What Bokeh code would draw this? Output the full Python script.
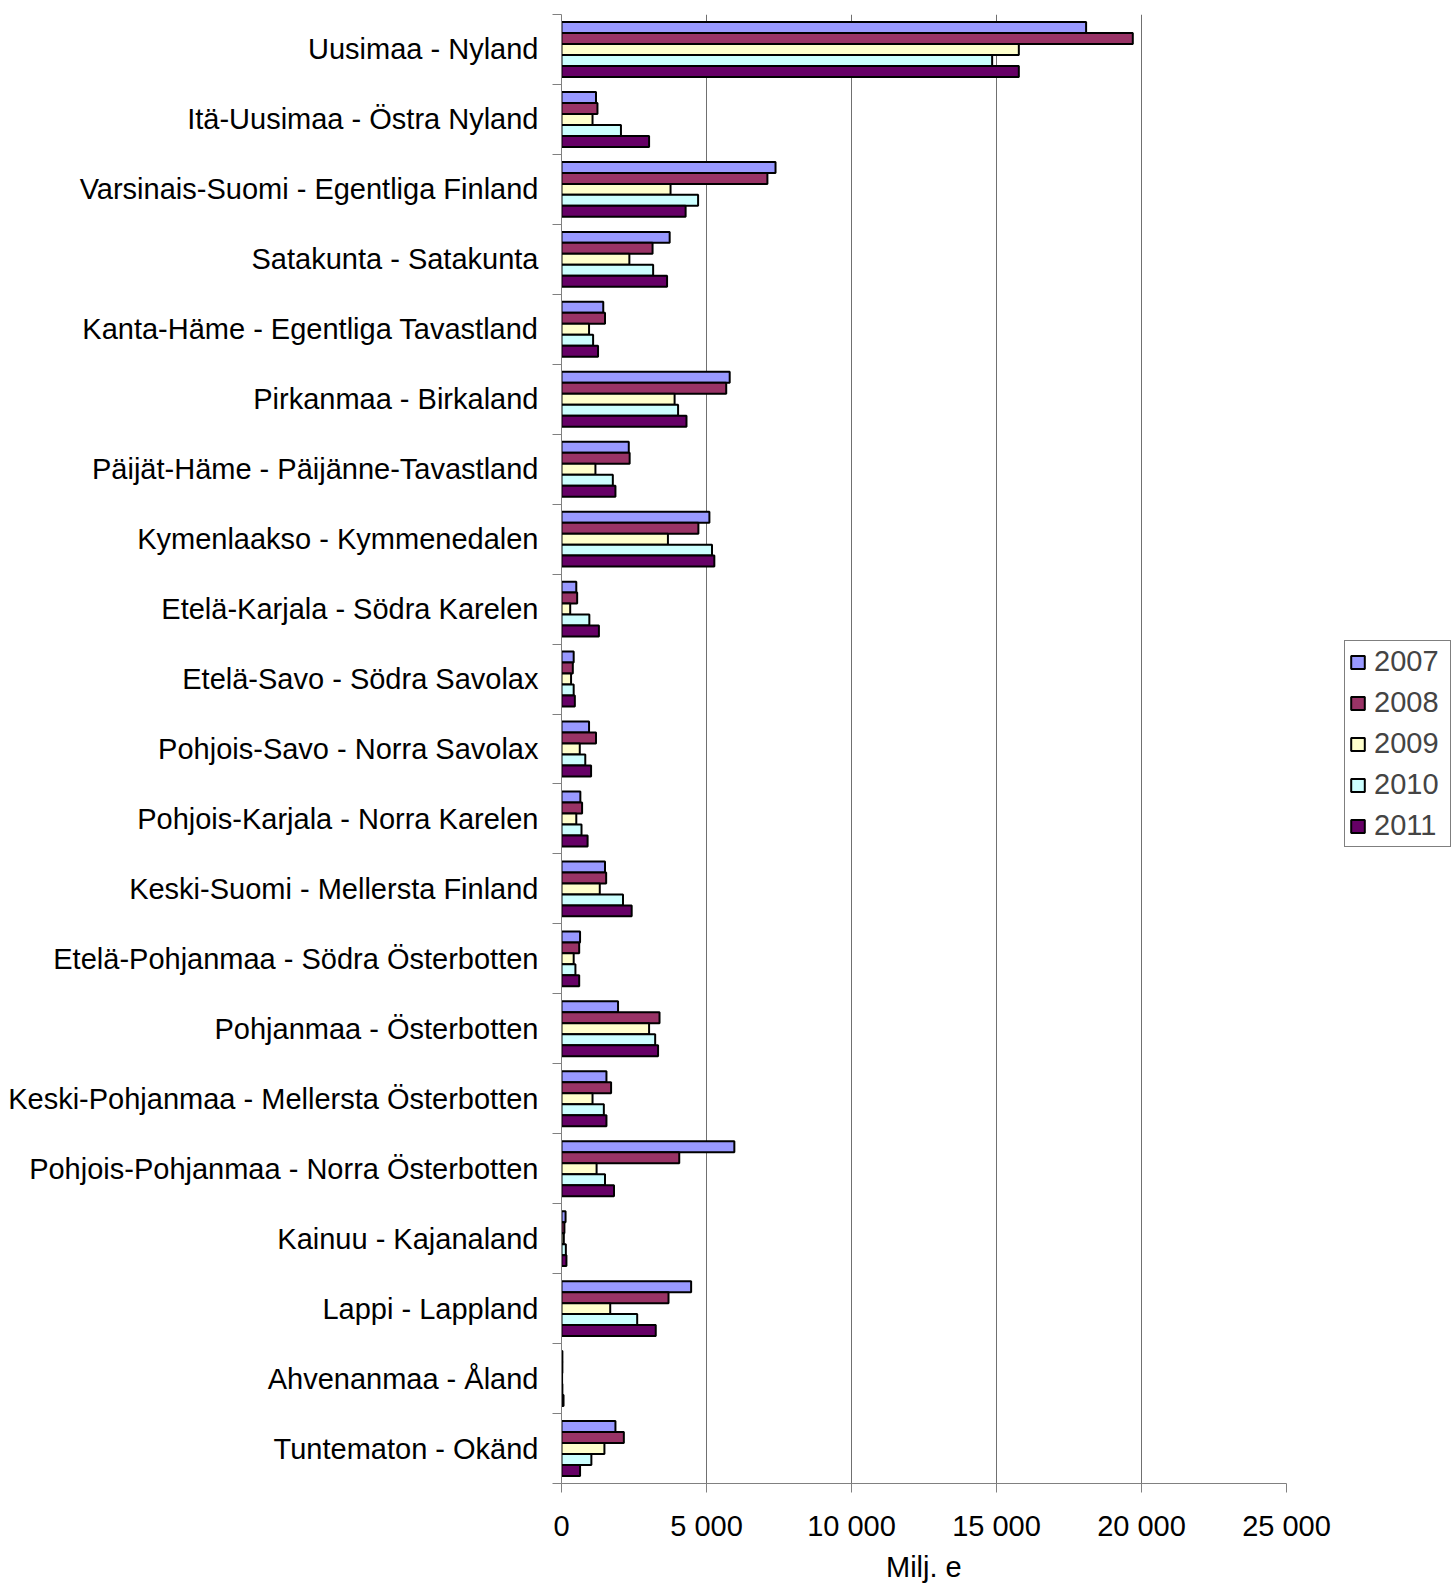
from bokeh.plotting import figure
from bokeh.models import (ColumnDataSource, FixedTicker, Legend, LegendItem, Range1d, Title)
from bokeh.embed import file_html
from bokeh.resources import INLINE

regions = [
    "Uusimaa - Nyland",
    "Itä-Uusimaa - Östra Nyland",
    "Varsinais-Suomi - Egentliga Finland",
    "Satakunta - Satakunta",
    "Kanta-Häme - Egentliga Tavastland",
    "Pirkanmaa - Birkaland",
    "Päijät-Häme - Päijänne-Tavastland",
    "Kymenlaakso - Kymmenedalen",
    "Etelä-Karjala - Södra Karelen",
    "Etelä-Savo - Södra Savolax",
    "Pohjois-Savo - Norra Savolax",
    "Pohjois-Karjala - Norra Karelen",
    "Keski-Suomi - Mellersta Finland",
    "Etelä-Pohjanmaa - Södra Österbotten",
    "Pohjanmaa - Österbotten",
    "Keski-Pohjanmaa - Mellersta Österbotten",
    "Pohjois-Pohjanmaa - Norra Österbotten",
    "Kainuu - Kajanaland",
    "Lappi - Lappland",
    "Ahvenanmaa - Åland",
    "Tuntematon - Okänd",
]

years = ["2007", "2008", "2009", "2010", "2011"]

v2007 = [18090, 1190, 7380, 3730, 1440, 5800, 2320, 5100, 510, 420, 950, 650, 1500, 640, 1950, 1550, 5960, 140, 4470, 30, 1860]
v2008 = [19700, 1240, 7100, 3140, 1500, 5680, 2350, 4720, 540, 390, 1190, 710, 1540, 610, 3380, 1710, 4060, 100, 3690, 30, 2150]
v2009 = [15770, 1070, 3760, 2340, 950, 3900, 1170, 3670, 300, 330, 630, 510, 1320, 420, 3020, 1070, 1210, 80, 1680, 20, 1480]
v2010 = [14850, 2050, 4710, 3160, 1090, 4020, 1770, 5190, 960, 420, 820, 690, 2120, 480, 3230, 1460, 1500, 150, 2610, 30, 1030]
v2011 = [15770, 3020, 4280, 3640, 1260, 4310, 1860, 5270, 1290, 460, 1020, 900, 2420, 610, 3330, 1550, 1810, 170, 3250, 70, 640]

series = [v2007, v2008, v2009, v2010, v2011]
colors = ["#9999FF", "#993366", "#FFFFCC", "#CCFFFF", "#660066"]

x_ticks = [0, 5000, 10000, 15000, 20000, 25000]
x_tick_labels = ["0", "5 000", "10 000", "15 000", "20 000", "25 000"]
x_title = "Milj. e"

FONT = "Liberation Sans"
FS = "29px"
n = len(regions)
bar_h = 0.157

W, H = 1451, 1587
LEFT, TOP, BOTTOM = 561, 14, 104
AXIS_PX = 725            # pixel length of the 0..25000 axis
frame_w = W - LEFT
x_max = x_ticks[-1]
x_end = x_max * frame_w / AXIS_PX   # frame extends right to hold the legend

p = figure(width=W, height=H, output_backend="svg", toolbar_location=None,
           x_range=Range1d(0, x_end), y_range=Range1d(0, n),
           min_border_left=LEFT, min_border_right=0, min_border_top=TOP,
           min_border_bottom=BOTTOM)
p.outline_line_color = None
p.background_fill_color = "white"

centers = [n - i - 0.5 for i in range(n)]

items = []
for j, (vals, col, yr) in enumerate(zip(series, colors, years)):
    ys = [c + (2 - j) * bar_h for c in centers]
    src = ColumnDataSource(dict(y=ys, right=vals))
    r = p.hbar(y="y", right="right", left=0, height=bar_h, source=src,
               fill_color=col, line_color="black", line_width=2)
    items.append(LegendItem(label=yr, renderers=[r]))

# x axis
xa = p.xaxis[0]
xa.bounds = (0, x_max)
xa.ticker = FixedTicker(ticks=x_ticks)
xa.major_label_overrides = {t: l for t, l in zip(x_ticks, x_tick_labels)}
xa.axis_line_color = "#808080"
xa.major_tick_line_color = "#808080"
xa.major_tick_out = 9
xa.major_tick_in = 0
xa.minor_tick_line_color = None
xa.major_label_text_font = FONT
xa.major_label_text_font_size = FS
xa.major_label_text_color = "black"
xa.major_label_standoff = 17

# axis title, centred under the 0..25000 axis
p.add_layout(Title(text=x_title, align="left", offset=AXIS_PX / 2 - 38,
                   text_font=FONT, text_font_size=FS, text_font_style="normal",
                   text_color="black", standoff=9), "below")

# y axis
ya = p.yaxis[0]
ya.ticker = FixedTicker(ticks=centers, minor_ticks=list(range(n + 1)))
ya.major_label_overrides = {c: r for c, r in zip(centers, regions)}
ya.axis_line_color = "#808080"
ya.major_tick_line_color = None
ya.major_tick_out = 0
ya.major_tick_in = 0
ya.minor_tick_line_color = "#808080"
ya.minor_tick_out = 9
ya.minor_tick_in = 0
ya.major_label_text_font = FONT
ya.major_label_text_font_size = FS
ya.major_label_text_color = "black"
ya.major_label_standoff = 14

# grids
p.ygrid.grid_line_color = None
p.xgrid.ticker = FixedTicker(ticks=x_ticks[1:-1])
p.xgrid.grid_line_color = "#707070"
p.xgrid.grid_line_width = 1

legend = Legend(items=items, location=(1344 - LEFT, 636),
                label_text_font=FONT, label_text_font_size=FS,
                glyph_width=17, glyph_height=16, label_standoff=8,
                label_width=72,
                spacing=8, padding=4, margin=0,
                border_line_color="black", border_line_width=1,
                background_fill_color="white", background_fill_alpha=1.0)
p.add_layout(legend, "center")

html = file_html(p, INLINE)
open("out.html", "w").write(html)
